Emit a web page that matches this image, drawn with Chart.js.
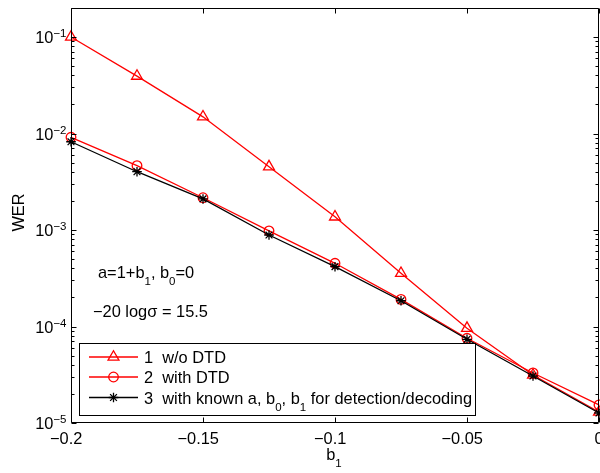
<!DOCTYPE html>
<html>
<head>
<meta charset="utf-8">
<script src="https://cdn.jsdelivr.net/npm/chart.js@4.4.1/dist/chart.umd.min.js"></script>
<style>
  html, body { margin: 0; padding: 0; background: #fff; }
  #wrap { width: 600px; height: 473px; }
</style>
</head>
<body>
<div id="wrap"><canvas id="chart" width="600" height="473"></canvas></div>
<script>
// WER vs b1 for three detector variants (log y axis, MATLAB look)

const B1 = [-0.2, -0.175, -0.15, -0.125, -0.1, -0.075, -0.05, -0.025, 0];
const WER_NO_DTD = [0.100, 0.0394, 0.0149, 0.00453, 0.00137, 3.56e-4, 9.6e-5, 3.14e-5, 1.30e-5];
const WER_DTD    = [0.00914, 0.00464, 0.00216, 9.8e-4, 4.52e-4, 1.91e-4, 7.55e-5, 3.30e-5, 1.54e-5];
const WER_KNOWN  = [0.00822, 0.00402, 0.00210, 8.88e-4, 4.17e-4, 1.85e-4, 7.37e-5, 3.07e-5, 1.27e-5];

const X_TICKS       = [-0.2, -0.15, -0.1, -0.05, 0];
const X_TICK_LABELS = ['−0.2', '−0.15', '−0.1', '−0.05', '0'];
const Y_DECADES     = [-5, -4, -3, -2, -1];
const Y_MINOR_MULT  = [2, 3, 4, 5, 6, 7, 8, 9];

const LEGEND_LABELS = [
  '1  w/o DTD',
  '2  with DTD',
  '3  with known a, b_{0}, b_{1} for detection/decoding',
];
const NOTE_1 = 'a=1+b_{1}, b_{0}=0';
const NOTE_2 = '−20 logσ = 15.5';

const MAIN_FONT  = '16.4px "Liberation Sans", Arial, Helvetica, sans-serif';
const SMALL_FONT = '11.5px "Liberation Sans", Arial, Helvetica, sans-serif';
const RED = '#ff0000';

const pts = (ys) => B1.map((x, i) => ({ x, y: ys[i] }));

// tiny rich text: _{sub} and ^{sup}
function parseRich(s) {
  const parts = [];
  const re = /([_^])\{([^}]*)\}/g;
  let last = 0, m;
  while ((m = re.exec(s))) {
    if (m.index > last) parts.push({ t: s.slice(last, m.index), k: '' });
    parts.push({ t: m[2], k: m[1] });
    last = re.lastIndex;
  }
  if (last < s.length) parts.push({ t: s.slice(last), k: '' });
  return parts;
}

function richWidth(ctx, s) {
  return parseRich(s).reduce((w, p) => {
    ctx.font = p.k ? SMALL_FONT : MAIN_FONT;
    return w + ctx.measureText(p.t).width;
  }, 0);
}

function drawRich(ctx, s, x, y, align) {
  const w = richWidth(ctx, s);
  let cx = align === 'right' ? x - w : align === 'center' ? x - w / 2 : x;
  ctx.textAlign = 'left';
  ctx.textBaseline = 'alphabetic';
  parseRich(s).forEach(p => {
    ctx.font = p.k ? SMALL_FONT : MAIN_FONT;
    const dy = p.k === '_' ? 7 : p.k === '^' ? -6 : 0;
    ctx.fillText(p.t, cx, y + dy);
    cx += ctx.measureText(p.t).width;
  });
}

const px = v => Math.round(v) + 0.5;

const matlabAxes = {
  id: 'matlabAxes',
  afterDatasetsDraw(chart) {
    const { ctx, chartArea: a, scales: { x, y } } = chart;
    const L = px(a.left), R = px(a.right - 1), T = px(a.top), B = px(a.bottom - 1);
    ctx.save();
    ctx.strokeStyle = '#000';
    ctx.fillStyle = '#000';
    ctx.lineWidth = 1;

    // box + inward ticks
    ctx.beginPath();
    ctx.rect(L, T, R - L, B - T);
    X_TICKS.forEach(v => {
      const xp = px(x.getPixelForValue(v));
      ctx.moveTo(xp, B); ctx.lineTo(xp, B - 5);
      ctx.moveTo(xp, T); ctx.lineTo(xp, T + 5);
    });
    Y_DECADES.forEach(e => {
      const base = Math.pow(10, e);
      const yp = px(y.getPixelForValue(base));
      ctx.moveTo(L, yp); ctx.lineTo(L + 5, yp);
      ctx.moveTo(R, yp); ctx.lineTo(R - 5, yp);
      Y_MINOR_MULT.forEach(mu => {
        const v = mu * base;
        if (v > y.max) return;
        const ym = px(y.getPixelForValue(v));
        ctx.moveTo(L, ym); ctx.lineTo(L + 3, ym);
        ctx.moveTo(R, ym); ctx.lineTo(R - 3, ym);
      });
    });
    ctx.stroke();

    // x tick labels (matlab centres the number, minus hangs left)
    ctx.font = MAIN_FONT;
    ctx.textAlign = 'right';
    ctx.textBaseline = 'alphabetic';
    X_TICKS.forEach((v, i) => {
      const lab = X_TICK_LABELS[i];
      const num = lab.replace('−', '');
      const wNum = ctx.measureText(num).width;
      ctx.fillText(lab, x.getPixelForValue(v) + wNum / 2, a.bottom + 21);
    });

    // y tick labels
    Y_DECADES.forEach(e => {
      const yp = y.getPixelForValue(Math.pow(10, e));
      drawRich(ctx, '10^{−' + Math.abs(e) + '}', a.left - 4.5, yp + 6, 'right');
    });

    // axis titles
    drawRich(ctx, 'b_{1}', (a.left + a.right) / 2 - 1, a.bottom + 37, 'center');
    ctx.save();
    ctx.translate(19, (a.top + a.bottom) / 2 - 3);
    ctx.rotate(-Math.PI / 2);
    ctx.font = MAIN_FONT;
    ctx.textAlign = 'center';
    ctx.textBaseline = 'middle';
    ctx.fillText('WER', 0, 0);
    ctx.restore();

    // notes
    drawRich(ctx, NOTE_1, 98, 278, 'left');
    drawRich(ctx, NOTE_2, 93, 317, 'left');

    // legend
    const textX = 144;
    const rows = [357, 377, 397.5];
    const maxW = Math.max(...LEGEND_LABELS.map(s => richWidth(ctx, s)));
    const boxL = px(a.left + 8), boxT = px(342.5), boxR = px(textX + maxW + 2.5), boxB = px(414.5);
    ctx.fillStyle = '#fff';
    ctx.fillRect(boxL, boxT, boxR - boxL, boxB - boxT);
    ctx.strokeStyle = '#000';
    ctx.lineWidth = 1;
    ctx.strokeRect(boxL, boxT, boxR - boxL, boxB - boxT);

    chart.data.datasets.forEach((ds, i) => {
      const ry = rows[i];
      ctx.strokeStyle = ds.borderColor;
      ctx.lineWidth = ds.borderWidth;
      ctx.beginPath();
      ctx.moveTo(89, ry); ctx.lineTo(138, ry);
      ctx.stroke();
      ctx.fillStyle = 'rgba(0,0,0,0)';
      ctx.lineWidth = ds.pointBorderWidth;
      Chart.helpers.drawPoint(ctx, {
        pointStyle: ds.pointStyle, radius: ds.pointRadius,
        borderWidth: ds.pointBorderWidth, rotation: 0,
      }, 113.5, ry);
      ctx.fillStyle = '#000';
      drawRich(ctx, LEGEND_LABELS[i], textX, ry + 6, 'left');
    });
    ctx.restore();
  },
};

const lineDs = (label, data, color, style, radius, order) => ({
  label, data,
  borderColor: color,
  borderWidth: 1.3,
  pointStyle: style,
  pointRadius: radius,
  pointBorderColor: color,
  pointBackgroundColor: 'rgba(0,0,0,0)',
  pointBorderWidth: 1.3,
  tension: 0,
  clip: false,
  order,
});

new Chart(document.getElementById('chart'), {
  type: 'line',
  data: {
    datasets: [
      lineDs('1 w/o DTD', pts(WER_NO_DTD), RED, 'triangle', 6.3, 3),
      lineDs('2 with DTD', pts(WER_DTD), RED, 'circle', 4.8, 2),
      lineDs('3 with known a, b0, b1', pts(WER_KNOWN), '#000', 'star', 4.8, 1),
    ],
  },
  options: {
    responsive: false,
    animation: false,
    devicePixelRatio: 1,
    layout: { autoPadding: false, padding: { left: 71, top: 8, right: 1, bottom: 50 } },
    plugins: { legend: { display: false }, tooltip: { enabled: false } },
    scales: {
      x: {
        type: 'linear', min: -0.2, max: 0,
        grid: { display: false, drawTicks: false },
        border: { display: false },
        ticks: { display: false },
      },
      y: {
        type: 'logarithmic', min: 1e-5, max: 0.2,
        grid: { display: false, drawTicks: false },
        border: { display: false },
        ticks: { display: false },
      },
    },
  },
  plugins: [matlabAxes],
});
</script>
</body>
</html>
